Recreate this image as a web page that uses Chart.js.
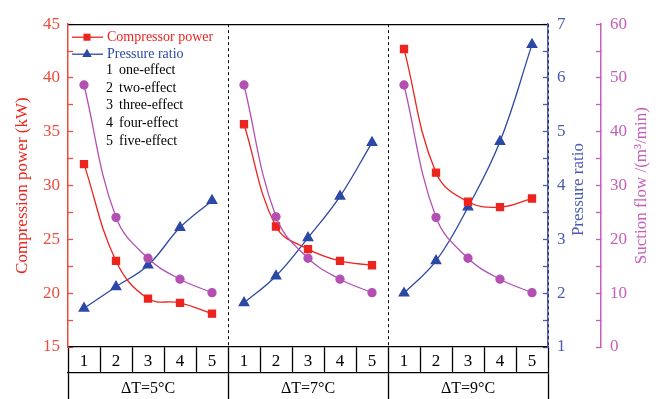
<!DOCTYPE html>
<html>
<head>
<meta charset="utf-8">
<script src="https://cdn.jsdelivr.net/npm/chart.js@4.4.0/dist/chart.umd.min.js"></script>
<style>
  html, body { margin: 0; padding: 0; background: #fff; }
  #wrap { width: 661px; height: 399px; position: relative; }
</style>
</head>
<body>
<div id="wrap"><canvas id="myChart"></canvas></div>
<script>
const COLORS = {
  red: 'rgb(236, 36, 30)',
  redText: 'rgb(234, 76, 62)',
  blue: 'rgb(44, 72, 166)',
  blueText: 'rgb(72, 92, 176)',
  purple: 'rgb(180, 80, 178)',
  purpleText: 'rgb(196, 96, 184)',
  black: '#000'
};
const FONT = "'Liberation Serif', 'Times New Roman', serif";

const groups = ['ΔT=5°C', 'ΔT=7°C', 'ΔT=9°C'];
const effects = ['1', '2', '3', '4', '5'];
const effectNames = ['one-effect', 'two-effect', 'three-effect', 'four-effect', 'five-effect'];

// 5 effects per temperature difference
const compressorPower = [
  32.0, 23.0, 19.5, 19.1, 18.1,
  35.7, 26.2, 24.1, 23.0, 22.6,
  42.7, 31.2, 28.5, 28.0, 28.8
];
const pressureRatio = [
  1.72, 2.12, 2.52, 3.22, 3.72,
  1.82, 2.32, 3.03, 3.8, 4.8,
  2.0, 2.6, 3.6, 4.82, 6.62
];
const suctionFlow = [
  48.7, 24.1, 16.5, 12.6, 10.1,
  48.7, 24.2, 16.5, 12.6, 10.1,
  48.7, 24.1, 16.5, 12.6, 10.1
];

const labels = groups.flatMap(() => effects);

function groupOnly(series, g) {
  return series.map((v, i) => Math.floor(i / effects.length) === g ? v : null);
}

let datasets = [];
groups.forEach((name, g) => {
  datasets.push({
    label: 'Suction flow',
    data: groupOnly(suctionFlow, g),
    xAxisID: 'x',
    yAxisID: 'y2',
    borderColor: COLORS.purple,
    backgroundColor: COLORS.purple,
    pointStyle: 'circle',
    pointRadius: 4,
    borderWidth: 1.3,
    tension: 0.4
  });
  datasets.push({
    label: 'Compressor power',
    data: groupOnly(compressorPower, g),
    xAxisID: 'x',
    yAxisID: 'y',
    borderColor: COLORS.red,
    backgroundColor: COLORS.red,
    pointStyle: 'rect',
    pointRadius: 5,
    borderWidth: 1.3,
    tension: 0.4
  });
  datasets.push({
    label: 'Pressure ratio',
    data: groupOnly(pressureRatio, g),
    xAxisID: 'x',
    yAxisID: 'y1',
    borderColor: COLORS.blue,
    backgroundColor: COLORS.blue,
    pointStyle: 'triangle',
    pointRadius: 5.5,
    borderWidth: 1.3,
    tension: 0.4
  });
});

// legend inside the plot + right-hand titles read bottom to top
const extras = {
  id: 'extras',
  afterDraw(chart) {
    const ctx = chart.ctx;
    const area = chart.chartArea;
    const x0 = area.left;
    ctx.save();
    ctx.textBaseline = 'middle';
    ctx.font = '14px ' + FONT;

    const rows = [
      { text: 'Compressor power', color: COLORS.red, style: 'rect', r: 5 },
      { text: 'Pressure ratio', color: COLORS.blue, style: 'triangle', r: 5.5 }
    ];
    rows.forEach((row, i) => {
      const y = area.top + 13 + i * 17;
      ctx.strokeStyle = row.color;
      ctx.lineWidth = 1.3;
      ctx.beginPath();
      ctx.moveTo(x0 + 4, y);
      ctx.lineTo(x0 + 35, y);
      ctx.stroke();
      ctx.fillStyle = row.color;
      Chart.helpers.drawPoint(ctx, { pointStyle: row.style, radius: row.r, borderWidth: 0 }, x0 + 19, y);
      ctx.fillStyle = row.color;
      ctx.fillText(row.text, x0 + 39, y);
    });
    ctx.fillStyle = COLORS.black;
    effectNames.forEach((name, i) => {
      const y = area.top + 46 + i * 17.7;
      ctx.fillText(effects[i], x0 + 38, y);
      ctx.fillText(name, x0 + 51, y);
    });

    ctx.font = '17px ' + FONT;
    ctx.textAlign = 'center';
    const cy = (area.top + area.bottom) / 2;
    const y1 = chart.scales.y1;
    const y2 = chart.scales.y2;
    ctx.save();
    ctx.translate(y1.right - 22, cy + 4);
    ctx.rotate(-Math.PI / 2);
    ctx.fillStyle = COLORS.blueText;
    ctx.fillText('Pressure ratio', 0, 0);
    ctx.restore();
    ctx.save();
    ctx.translate(y2.left + 41, cy);
    ctx.rotate(-Math.PI / 2);
    ctx.fillStyle = COLORS.purpleText;
    ctx.fillText('Suction flow /(m³/min)', 0, 0);
    ctx.restore();
    ctx.restore();
  }
};

let ctx = document.getElementById('myChart');
let myChart = new Chart(ctx, {
  type: 'line',
  data: { labels: labels, datasets: datasets },
  plugins: [extras],
  options: {
    responsive: true,
    maintainAspectRatio: false,
    animation: false,
    layout: { padding: 0 },
    plugins: { legend: { display: false }, tooltip: { enabled: false } },
    scales: {
      x: {
        type: 'category',
        position: 'bottom',
        weight: 1,
        offset: true,
        grid: { offset: true, drawOnChartArea: false, tickLength: 26, tickColor: COLORS.black, tickWidth: 1.3 },
        border: { color: COLORS.black, width: 1.3 },
        ticks: { color: COLORS.black, font: { family: FONT, size: 17 }, padding: -22, maxRotation: 0, autoSkip: false },
        afterFit: s => { s.height = 26; }
      },
      x2: {
        type: 'category',
        position: 'bottom',
        weight: 2,
        labels: groups,
        offset: true,
        grid: {
          offset: true,
          color: c => (c.index === 0 || c.index === groups.length) ? 'rgba(0,0,0,0)' : COLORS.black,
          lineWidth: 1,
          tickLength: 30,
          tickColor: COLORS.black,
          tickWidth: 1.3
        },
        border: { color: COLORS.black, width: 1.3, dash: [3, 3] },
        ticks: { color: COLORS.black, font: { family: FONT, size: 16 }, padding: -24, maxRotation: 0 },
        afterFit: s => { s.height = 26; }
      },
      xTop: {
        type: 'category',
        position: 'top',
        grid: { display: false },
        ticks: { display: false },
        border: { color: COLORS.black, width: 1.3 },
        afterFit: s => { s.height = 17; }
      },
      y: {
        position: 'left',
        min: 15,
        max: 45,
        ticks: {
          stepSize: 2.5,
          color: COLORS.redText,
          font: { family: FONT, size: 17 },
          padding: 13,
          callback: v => v % 5 === 0 ? v : ''
        },
        grid: { drawOnChartArea: false, tickLength: -5, tickColor: COLORS.redText, tickWidth: 1.3 },
        border: { color: COLORS.redText, width: 1.5 },
        title: {
          display: true,
          text: 'Compression power (kW)',
          color: COLORS.red,
          font: { family: FONT, size: 17 },
          padding: { top: 12, bottom: 0 }
        },
        afterFit: s => { s.width = 68; }
      },
      y1: {
        position: 'right',
        weight: 1,
        min: 1,
        max: 7,
        ticks: {
          stepSize: 0.5,
          color: COLORS.blueText,
          font: { family: FONT, size: 17 },
          padding: 14,
          callback: v => Number.isInteger(v) ? v : ''
        },
        grid: { drawOnChartArea: false, tickLength: -5, tickColor: COLORS.blueText, tickWidth: 1.3 },
        border: { color: COLORS.blueText, width: 1.5 },
        afterFit: s => { s.width = 53; }
      },
      y2: {
        position: 'right',
        weight: 2,
        min: 0,
        max: 60,
        ticks: {
          stepSize: 5,
          color: COLORS.purpleText,
          font: { family: FONT, size: 17 },
          padding: 14,
          callback: v => v % 10 === 0 ? v : ''
        },
        grid: { drawOnChartArea: false, tickLength: -5, tickColor: COLORS.purpleText, tickWidth: 1.3 },
        border: { color: COLORS.purpleText, width: 1.5 },
        afterFit: s => { s.width = 60; }
      }
    }
  }
});
</script>
</body>
</html>
